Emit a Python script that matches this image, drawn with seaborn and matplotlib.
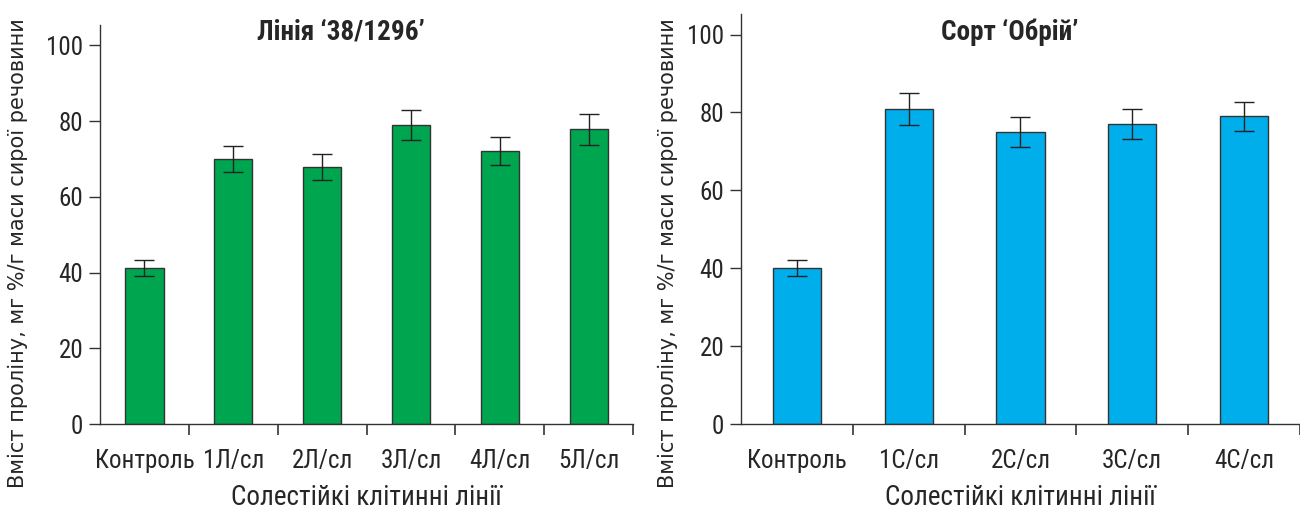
import matplotlib
matplotlib.use('Agg')
import matplotlib.pyplot as plt
from matplotlib import font_manager
import seaborn as sns
import pandas as pd

sns.set_style('white')

names = {f.name for f in font_manager.fontManager.ttflist}
narrow = 'DejaVu Sans'
for cand in ['Liberation Sans Narrow', 'DejaVu Sans Condensed', 'Roboto Condensed', 'Open Sans Condensed']:
    if cand in names:
        narrow = cand
        break
plt.rcParams['font.family'] = [narrow, 'DejaVu Sans']

# дані
cat_line = ['Контроль', '1Л/сл', '2Л/сл', '3Л/сл', '4Л/сл', '5Л/сл']
val_line = [41.1, 69.9, 67.9, 78.9, 72.0, 77.8]
err_line = [2.1, 3.4, 3.4, 4.0, 3.7, 4.0]

cat_sort = ['Контроль', '1С/сл', '2С/сл', '3С/сл', '4С/сл']
val_sort = [40.0, 81.0, 75.0, 77.0, 79.0]
err_sort = [2.0, 4.1, 3.8, 3.8, 3.8]

fig = plt.figure(figsize=(13, 5.14), dpi=100)
ax1 = fig.add_axes([0.0769, 0.175, 0.4101, 0.776])
ax2 = fig.add_axes([0.570, 0.175, 0.430, 0.798])


def draw(ax, cats, vals, errs, color, xmax):
    df = pd.DataFrame({'cat': cats, 'val': vals})
    sns.barplot(data=df, x='cat', y='val', color=color, width=0.43,
                edgecolor='#333333', linewidth=1.0, saturation=1, ax=ax)
    ax.errorbar(range(len(cats)), vals, yerr=errs, fmt='none',
                ecolor='#222222', elinewidth=1.0, capsize=7, capthick=1.0)
    ax.set_ylim(0, 105.3)
    ax.set_xlim(-0.5, xmax)
    ax.set_yticks([0, 20, 40, 60, 80, 100])
    ax.set_xticks(range(len(cats)))
    ax.set_xticklabels(cats)
    ax.set_xticks([i + 0.5 for i in range(len(cats))], minor=True)
    ax.tick_params(axis='x', which='major', length=0, pad=18, labelsize=18)
    ax.tick_params(axis='x', which='minor', length=8, width=1.2, color='#333333',
                   direction='out', bottom=True)
    ax.tick_params(axis='y', length=8, width=1.0, color='#333333', direction='out',
                   labelsize=18, pad=4, left=True)
    for s in ['top', 'right']:
        ax.spines[s].set_visible(False)
    for s in ['left', 'bottom']:
        ax.spines[s].set_color('#333333')
        ax.spines[s].set_linewidth(1.0)
    ax.set_xlabel('Солестійкі клітинні лінії', fontsize=19.5, labelpad=8)
    ax.set_ylabel('')


draw(ax1, cat_line, val_line, err_line, '#00A54F', 5.5)
draw(ax2, cat_sort, val_sort, err_sort, '#00AEEC', 4.43)

fig.text(0.262, 0.937, 'Лінія ‘38/1296’', ha='center', va='center',
         fontsize=19.5, fontweight='bold')
fig.text(0.777, 0.937, 'Сорт ‘Обрій’', ha='center', va='center',
         fontsize=19.5, fontweight='bold')

ylab = 'Вміст проліну, мг %/г маси сирої речовини'
fig.text(0.014, 0.508, ylab, rotation=90, ha='center', va='center',
         fontsize=15, family='DejaVu Sans')
fig.text(0.514, 0.508, ylab, rotation=90, ha='center', va='center',
         fontsize=15, family='DejaVu Sans')

fig.savefig('out.png', dpi=100)
